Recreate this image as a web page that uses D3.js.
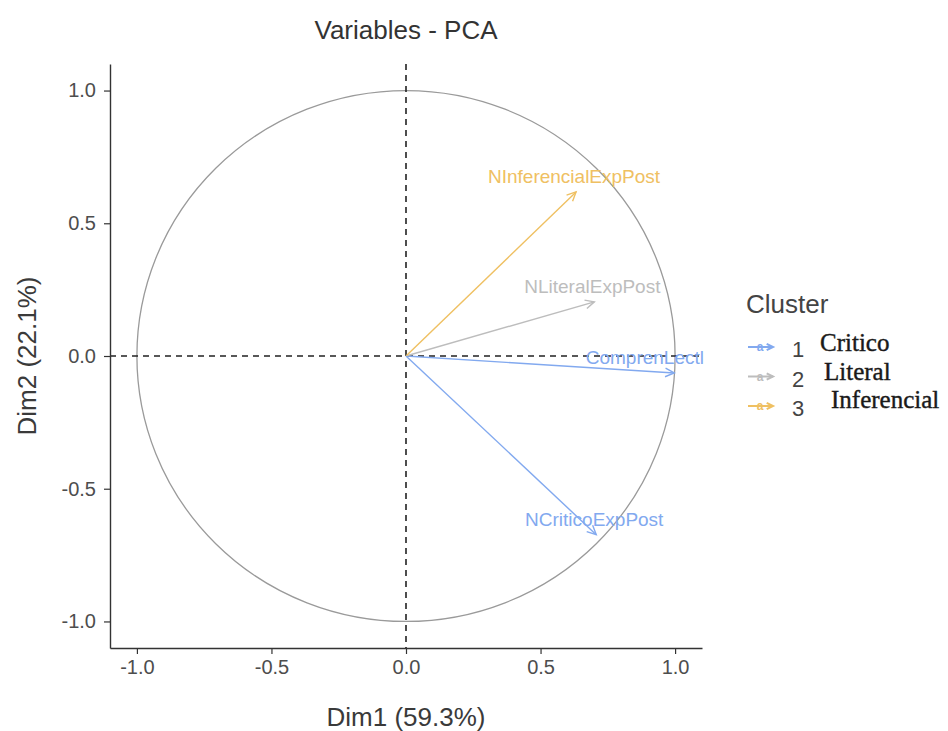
<!DOCTYPE html>
<html lang="en">
<head>
<meta charset="UTF-8" />
<title>Variables - PCA</title>
<style>
  body { margin: 0; background: #fff; }
  text { font-family: "Liberation Sans", Arial, sans-serif; }
  .tick text { fill: #4d4d4d; font-size: 20px; }
  .tick line { stroke: #333; stroke-width: 1.2px; }
  .domain { stroke: #333; stroke-width: 1.4px; }
  .zero-line { stroke: #222; stroke-width: 1.6px; stroke-dasharray: 6,5; }
  .corr-circle { fill: none; stroke: #9a9a9a; stroke-width: 1.3px; }
  .vec { stroke-width: 1.4px; fill: none; }
  .key { stroke-width: 2px; fill: none; }
  .serif { font-family: "Liberation Serif", "Times New Roman", serif; stroke: #1a1a1a; stroke-width: 0.4px; }
</style>
</head>
<body>
<script src="https://cdn.jsdelivr.net/npm/d3@7/dist/d3.min.js"></script>
<script>
// data
var varNames = ["ComprenLectl", "NLiteralExpPost", "NInferencialExpPost", "NCriticoExpPost"];
var dim1 = [0.997, 0.700, 0.632, 0.707];
var dim2 = [-0.064, 0.204, 0.618, -0.673];
var varCluster = ["1", "2", "3", "1"];

var clusters = ["1", "2", "3"];
var clusterNames = ["Critico", "Literal", "Inferencial"];
var clusterColors = ["#82a9ef", "#bdbdbd", "#efc062"];

var ticks = [-1.0, -0.5, 0.0, 0.5, 1.0];

var w = 948, h = 731;
var panel = { left: 110, right: 702, top: 64, bottom: 648 };

var svg = d3.select("body").append("svg")
  .attr("width", w)
  .attr("height", h);

var xScale = d3.scaleLinear().domain([-1.1, 1.1]).range([panel.left, panel.right]);
var yScale = d3.scaleLinear().domain([-1.1, 1.1]).range([panel.bottom, panel.top]);
var colour = d3.scaleOrdinal().domain(clusters).range(clusterColors);

// correlation circle
svg.append("ellipse")
  .attr("class", "corr-circle")
  .attr("cx", xScale(0))
  .attr("cy", yScale(0))
  .attr("rx", xScale(1) - xScale(0))
  .attr("ry", yScale(0) - yScale(1));

// dashed zero lines
svg.append("line")
  .attr("class", "zero-line")
  .attr("x1", panel.left).attr("x2", panel.right)
  .attr("y1", yScale(0)).attr("y2", yScale(0));

svg.append("line")
  .attr("class", "zero-line")
  .attr("x1", xScale(0)).attr("x2", xScale(0))
  .attr("y1", panel.top).attr("y2", panel.bottom);

// axes
var fmt = function(d) { return d.toFixed(1); };

svg.append("g")
  .attr("transform", "translate(0," + panel.bottom + ")")
  .call(d3.axisBottom(xScale).tickValues(ticks).tickFormat(fmt)
    .tickSizeInner(6).tickSizeOuter(0).tickPadding(6));

svg.append("g")
  .attr("transform", "translate(" + panel.left + ",0)")
  .call(d3.axisLeft(yScale).tickValues(ticks).tickFormat(fmt)
    .tickSizeInner(6).tickSizeOuter(0).tickPadding(8));

// arrow helper: shaft plus open head
function arrow(g, x1, y1, x2, y2, col, len, cls) {
  g.append("line")
    .attr("class", cls)
    .attr("x1", x1).attr("y1", y1)
    .attr("x2", x2).attr("y2", y2)
    .attr("stroke", col);
  var a = Math.atan2(y2 - y1, x2 - x1), s = Math.PI / 7;
  var p = d3.path();
  p.moveTo(x2 - len * Math.cos(a - s), y2 - len * Math.sin(a - s));
  p.lineTo(x2, y2);
  p.lineTo(x2 - len * Math.cos(a + s), y2 - len * Math.sin(a + s));
  g.append("path")
    .attr("class", cls)
    .attr("d", p.toString())
    .attr("stroke", col);
}

var vecs = svg.append("g");
varNames.forEach(function(name, i) {
  arrow(vecs, xScale(0), yScale(0), xScale(dim1[i]), yScale(dim2[i]), colour(varCluster[i]), 10, "vec");
});

// variable labels, kept inside the panel
varNames.forEach(function(name, i) {
  var t = svg.append("text")
    .attr("text-anchor", "middle")
    .attr("font-size", 19)
    .attr("fill", colour(varCluster[i]))
    .attr("y", yScale(dim2[i]) - 9)
    .text(name);
  var tw = t.node().getComputedTextLength();
  var cx = Math.min(xScale(dim1[i]) - 2, panel.right + 2 - tw / 2);
  t.attr("x", cx);
});

// title and axis titles
svg.append("text")
  .attr("x", (panel.left + panel.right) / 2)
  .attr("y", 39)
  .attr("text-anchor", "middle")
  .attr("font-size", 26)
  .attr("fill", "#333")
  .text("Variables - PCA");

svg.append("text")
  .attr("x", (panel.left + panel.right) / 2)
  .attr("y", 726)
  .attr("text-anchor", "middle")
  .attr("font-size", 26)
  .attr("fill", "#3a3a3a")
  .text("Dim1 (59.3%)");

svg.append("text")
  .attr("transform", "translate(36," + yScale(0) + ") rotate(-90)")
  .attr("text-anchor", "middle")
  .attr("font-size", 26)
  .attr("fill", "#3a3a3a")
  .text("Dim2 (22.1%)");

// legend
var legend = svg.append("g").attr("transform", "translate(746,0)");

legend.append("text")
  .attr("x", 0)
  .attr("y", 313)
  .attr("font-size", 26)
  .attr("fill", "#444")
  .text("Cluster");

clusters.forEach(function(c, i) {
  var base = 357 + i * 29.5;
  var ky = base - 10;
  arrow(legend, 2, ky, 27, ky, colour(c), 7, "key");
  legend.append("text")
    .attr("x", 14)
    .attr("y", ky + 4)
    .attr("text-anchor", "middle")
    .attr("font-size", 12)
    .attr("font-weight", "bold")
    .attr("fill", colour(c))
    .text("a");
  legend.append("text")
    .attr("x", 46)
    .attr("y", base)
    .attr("font-size", 22)
    .attr("fill", "#444")
    .text(c);
  legend.append("text")
    .attr("class", "serif")
    .attr("x", 74 + i * 4 + (i === 2 ? 3 : 0))
    .attr("y", 351 + i * 28.5)
    .attr("font-size", 25)
    .attr("fill", "#1a1a1a")
    .text(clusterNames[i]);
});
</script>
</body>
</html>
